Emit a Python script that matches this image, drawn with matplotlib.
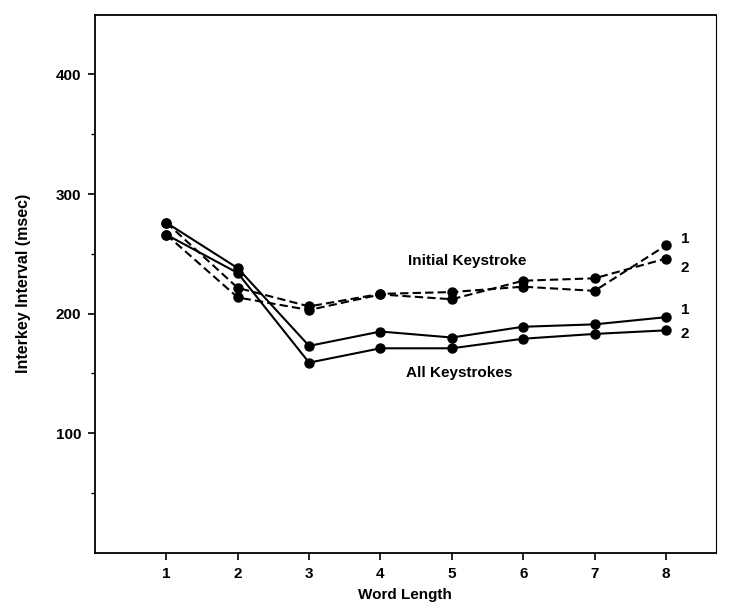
import matplotlib
matplotlib.use("Agg")
import matplotlib.pyplot as plt
from matplotlib.ticker import FixedLocator

plt.rcParams['font.family'] = ['Liberation Sans', 'DejaVu Sans']
plt.rcParams['font.weight'] = 'bold'

word_length = [1, 2, 3, 4, 5, 6, 7, 8]
all_keys_1 = [276, 238, 173, 185, 180, 189, 191, 197]
all_keys_2 = [266, 234, 159, 171, 171, 179, 183, 186]
initial_1 = [276, 221.5, 206, 216.5, 218, 222.5, 219, 257]
initial_2 = [266, 213.5, 203, 216, 212, 227.5, 229.5, 246]
y_ticks = [100, 200, 300, 400]
y_minor_ticks = [50, 150, 250, 350]

fig = plt.figure(figsize=(7.29, 6.04), dpi=100)
ax = fig.add_axes([0.1303, 0.0848, 0.982 - 0.1303, 0.9758 - 0.0848])

kw = dict(color='black', marker='o', markersize=6.5, linewidth=1.5)
ax.plot(word_length, all_keys_1, linestyle='-', **kw)
ax.plot(word_length, all_keys_2, linestyle='-', **kw)
ax.plot(word_length, initial_1, linestyle=(0, (4, 2)), **kw)
ax.plot(word_length, initial_2, linestyle=(0, (4, 2)), **kw)

ax.set_xlim(0, 8.7)
ax.set_ylim(0, 450)
ax.set_xticks(word_length)
ax.set_yticks(y_ticks)
ax.yaxis.set_minor_locator(FixedLocator(y_minor_ticks))
ax.tick_params(axis='both', which='major', direction='out', length=5, width=1.2,
               labelsize=11, pad=5)
ax.tick_params(axis='y', which='minor', direction='out', length=3, width=1)
for lbl in ax.get_xticklabels() + ax.get_yticklabels():
    lbl.set_fontweight('bold')

for s in ax.spines.values():
    s.set_linewidth(1.3)
ax.spines['right'].set_linewidth(0.8)

ax.set_ylabel('Interkey Interval (msec)', fontsize=11.5, fontweight='bold', labelpad=18)
ax.set_xlabel('Word Length', fontsize=11, fontweight='bold', labelpad=5)

ax.text(5.22, 244, 'Initial Keystroke', fontsize=11, fontweight='bold',
        ha='center', va='center')
ax.text(5.1, 150.5, 'All Keystrokes', fontsize=11, fontweight='bold',
        ha='center', va='center')
for yv, t in [(262.5, '1'), (238, '2'), (202.6, '1'), (182.6, '2')]:
    ax.text(8.27, yv, t, fontsize=11, fontweight='bold', ha='center', va='center')

fig.savefig('out.png', dpi=100)
